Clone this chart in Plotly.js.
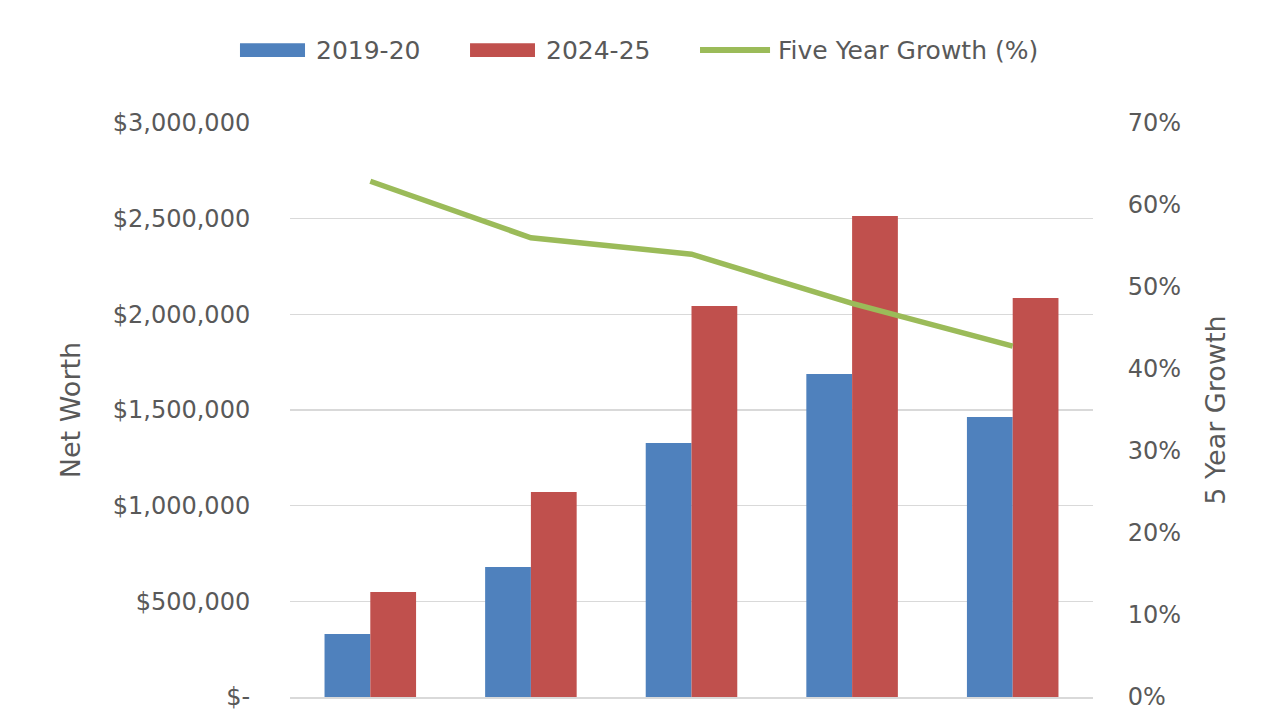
<!DOCTYPE html>
<html>
<head>
<meta charset="utf-8">
<script src="https://cdn.plot.ly/plotly-3.0.1.min.js"></script>
<style>
  html, body { margin: 0; padding: 0; background: #fff; overflow: hidden; }
  #chart { width: 1280px; height: 800px; }
</style>
</head>
<body>
<div id="chart"></div>
<script>
// Age groups of households
const ageGroups = ["Under 35", "35-44", "45-54", "55-64", "65+"];

// Average net worth (USD)
const netWorth2019 = [329000, 679000, 1328000, 1688000, 1463000];
const netWorth2024 = [549000, 1071000, 2044000, 2514000, 2085000];

// Growth over the five years (fraction)
const fiveYearGrowth = [0.629, 0.560, 0.540, 0.480, 0.428];

// Series names and colours, shared by the traces and the legend row
const seriesNames = ["2019-20", "2024-25", "Five Year Growth (%)"];
const seriesColors = ["#4f81bd", "#c0504d", "#9bbb59"];

// Tick labels for the net worth axis
const worthTickVals = [0, 500000, 1000000, 1500000, 2000000, 2500000, 3000000];
const worthTickText = ["$-", "$500,000", "$1,000,000", "$1,500,000", "$2,000,000", "$2,500,000", "$3,000,000"];

const textColor = "#595959";
const gridColor = "#d9d9d9";
const family = "DejaVu Sans, Open Sans, sans-serif";
const tickFont = { family: family, size: 24, color: textColor };
const titleFont = { family: family, size: 27, color: textColor };
const legendFont = { family: family, size: 25, color: textColor };

const traces = [
  {
    type: "bar", name: seriesNames[0], x: ageGroups, y: netWorth2019,
    marker: { color: seriesColors[0] }
  },
  {
    type: "bar", name: seriesNames[1], x: ageGroups, y: netWorth2024,
    marker: { color: seriesColors[1] }
  },
  {
    type: "scatter", mode: "lines", name: seriesNames[2],
    x: ageGroups, y: fiveYearGrowth, yaxis: "y2",
    line: { color: seriesColors[2], width: 5.5 }
  }
];

// Legend row above the plot: wide colour keys followed by the series names
const legendRowY = 1.127;
const legendKeys = [
  { type: "rect", xref: "paper", yref: "paper", x0: -0.0623, x1: 0.0187, y0: 1.115, y1: 1.139,
    fillcolor: seriesColors[0], line: { width: 0 } },
  { type: "rect", xref: "paper", yref: "paper", x0: 0.2242, x1: 0.3051, y0: 1.115, y1: 1.139,
    fillcolor: seriesColors[1], line: { width: 0 } },
  { type: "line", xref: "paper", yref: "paper", x0: 0.5106, x1: 0.5978, y0: legendRowY, y1: legendRowY,
    line: { color: seriesColors[2], width: 6 } }
];
const legendLabelX = [0.0300, 0.3165, 0.6055];
const legendLabels = seriesNames.map((name, i) => ({
  xref: "paper", yref: "paper", x: legendLabelX[i], y: legendRowY,
  xanchor: "left", yanchor: "middle", showarrow: false,
  text: name, font: legendFont
}));

const layout = {
  width: 1280, height: 800,
  margin: { l: 290, r: 187, t: 123, b: 103 },
  paper_bgcolor: "#ffffff", plot_bgcolor: "#ffffff",
  font: tickFont,
  barmode: "group",
  bargap: 0.43, bargroupgap: 0,
  showlegend: false,
  shapes: legendKeys,
  annotations: legendLabels,
  xaxis: {
    type: "category",
    showgrid: false, zeroline: false,
    showline: true, linecolor: gridColor, linewidth: 1.5,
    ticks: "outside", ticklen: 30, tickcolor: "rgba(0,0,0,0)",
    tickfont: tickFont, automargin: false
  },
  yaxis: {
    range: [0, 3000000],
    tickvals: worthTickVals, ticktext: worthTickText,
    showgrid: true, gridcolor: gridColor, gridwidth: 1.5,
    zeroline: false, showline: false,
    ticks: "outside", ticklen: 34, tickcolor: "rgba(0,0,0,0)",
    tickfont: tickFont, automargin: false,
    title: { text: "Net Worth", font: titleFont, standoff: 24 }
  },
  yaxis2: {
    overlaying: "y", side: "right",
    range: [0, 0.7], dtick: 0.1, tickformat: ".0%",
    showgrid: false, zeroline: false, showline: false,
    ticks: "outside", ticklen: 29, tickcolor: "rgba(0,0,0,0)",
    tickfont: tickFont, automargin: false,
    title: { text: "5 Year Growth", font: titleFont, standoff: 25 }
  }
};

Plotly.newPlot("chart", traces, layout, { displayModeBar: false, staticPlot: true });
</script>
</body>
</html>
